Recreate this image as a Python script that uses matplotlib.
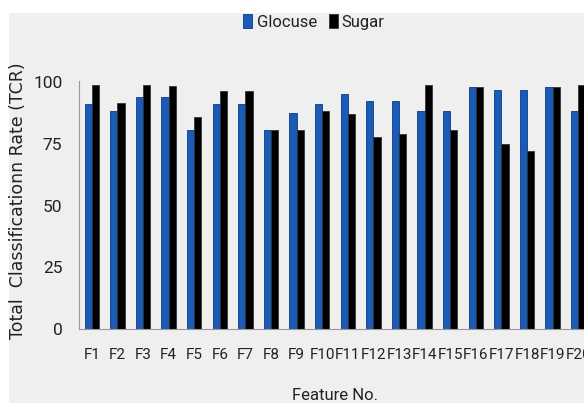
import matplotlib.pyplot as plt
import numpy as np
from matplotlib.patches import Rectangle

features = ["F1", "F2", "F3", "F4", "F5", "F6", "F7", "F8", "F9", "F10",
            "F11", "F12", "F13", "F14", "F15", "F16", "F17", "F18", "F19", "F20"]
glocuse = [91, 88.5, 94, 94, 80.5, 91, 91, 80.5, 87.5, 91,
           95.3, 92.5, 92.5, 88.3, 88.3, 98, 97, 97, 98, 88.3]
sugar = [99, 91.5, 99, 98.3, 85.8, 96.3, 96.3, 80.5, 80.5, 88.3,
         87, 77.7, 79, 99, 80.5, 98, 74.8, 72, 98, 99]
yticks = [0, 25, 50, 75, 100]

narrow = "Roboto"

fig = plt.figure(figsize=(5.84, 4.03), dpi=100)
fig.patch.set_facecolor("white")
fig.patches.append(Rectangle((9 / 584, 0), 1, 1 - 13 / 403, transform=fig.transFigure,
                             facecolor="#efefef", edgecolor="none", zorder=-10))

# axes runs past the right edge, like the cropped original
ax = fig.add_axes([79 / 584, 74 / 403, 512 / 584, 248 / 403])
ax.set_facecolor("none")

x = np.arange(len(features))
w = 0.28
ax.bar(x - w / 2, glocuse, w, color="#1a5bb8", edgecolor="#0c3d85", linewidth=0.6, label="Glocuse")
ax.bar(x + w / 2, sugar, w, color="black", edgecolor="#333333", linewidth=0.6, label="Sugar")

ax.set_xlim(-0.5, len(features) - 0.5)
ax.set_ylim(0, 100.5)
ax.set_yticks(yticks)
ax.set_yticklabels([str(v) for v in yticks], family=narrow, fontsize=12.5, color="#222222")
ax.set_xticks(x)
ax.set_xticklabels(features, family=narrow, fontsize=11, color="#222222")
ax.tick_params(length=0)
ax.tick_params(axis="x", pad=14)
ax.tick_params(axis="y", pad=12)

for s in ["top", "right"]:
    ax.spines[s].set_visible(False)
ax.spines["left"].set_color("#999999")
ax.spines["bottom"].set_color("#999999")

fig.text(18 / 584, 1 - 201 / 403, "Total  Classificationn Rate (TCR)", rotation=90,
         ha="center", va="center", fontsize=12.5, family="DejaVu Sans", color="#222222")
fig.text(335 / 584, 1 - 396 / 403, "Feature No.", ha="center", va="center",
         fontsize=12, family=narrow, color="#222222")

fig.legend(loc="center", bbox_to_anchor=(314 / 584, 1 - 22 / 403), ncol=2, frameon=False,
           prop={"family": narrow, "size": 12}, handlelength=0.55, handleheight=0.9,
           handletextpad=0.25, columnspacing=0.7, labelcolor="#222222")

fig.savefig("out.png", dpi=100, facecolor=fig.get_facecolor())
